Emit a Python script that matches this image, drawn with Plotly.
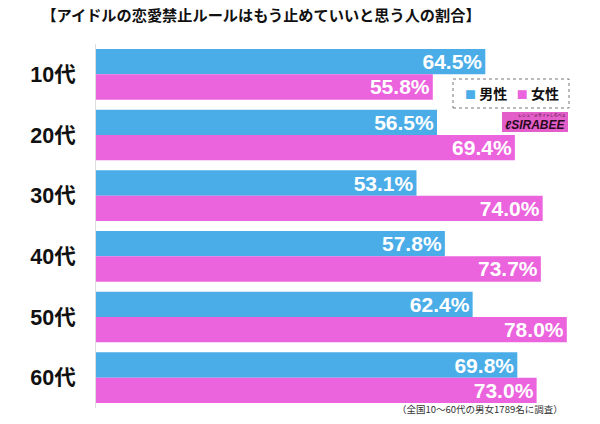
import plotly.graph_objects as go

categories = ["10代", "20代", "30代", "40代", "50代", "60代"]
male = [64.5, 56.5, 53.1, 57.8, 62.4, 69.8]
female = [55.8, 69.4, 74.0, 73.7, 78.0, 73.0]
series_names = ["男性", "女性"]
colors = ["#4BADE8", "#EB63DD"]

title_text = "【アイドルの恋愛禁止ルールはもう止めていいと思う人の割合】"
note_text = "（全国10～60代の男女1789名に調査）"

JP = "Noto Sans CJK JP"
NUM = "Liberation Sans, Noto Sans CJK JP"

fig = go.Figure()
for name, vals, col in zip(series_names, [male, female], colors):
    fig.add_trace(go.Bar(
        y=categories, x=vals, name=name, orientation="h",
        marker=dict(color=col, line=dict(width=0)),
        text=[f"{v:.1f}%" for v in vals],
        textposition="inside", insidetextanchor="end",
        constraintext="none",
        textfont=dict(color="white", size=21, family=NUM, weight="bold"),
        showlegend=False,
    ))

fig.update_layout(
    width=600, height=424,
    margin=dict(l=96, r=0, t=44, b=16),
    paper_bgcolor="white", plot_bgcolor="white",
    barmode="group", bargap=0.165, bargroupgap=0,
    xaxis=dict(range=[0, 83.5], visible=False, showgrid=False, zeroline=False),
    yaxis=dict(autorange="reversed", showgrid=False, zeroline=False,
               showline=True, linecolor="#DDDDDD", linewidth=1,
               ticks="", ticklabelstandoff=15,
               tickfont=dict(family=NUM, size=21.5, color="#111111", weight="bold")),
    title=dict(text=title_text, xref="container", yref="container",
               x=261/600, y=1-16/424, xanchor="center", yanchor="middle",
               font=dict(family=JP, size=15.2, color="#111111", weight="bold")),
)

def px_x(p):
    return (p - 96) / 504
def px_y(p):
    return 1 - (p - 44) / 364

# legend box (dashed)
fig.add_shape(type="rect", xref="paper", yref="paper",
              x0=px_x(453), x1=px_x(569), y0=px_y(108), y1=px_y(79),
              line=dict(color="#777777", width=1, dash="dot"), fillcolor="white")
legend_html = (f"<span style='color:{colors[0]};font-size:11px'>■</span> {series_names[0]}"
               f"   <span style='color:{colors[1]};font-size:11px'>■</span> {series_names[1]}")
fig.add_annotation(xref="paper", yref="paper", x=px_x(512), y=px_y(93.5),
                   text=legend_html, showarrow=False, xanchor="center", yanchor="middle",
                   font=dict(family=JP, size=14, color="#111111", weight="bold"))

# SIRABEE logo
fig.add_shape(type="rect", xref="paper", yref="paper",
              x0=px_x(502), x1=px_x(568), y0=px_y(132), y1=px_y(112),
              line=dict(width=0), fillcolor="#E35EC8")
fig.add_annotation(xref="paper", yref="paper", x=px_x(535), y=px_y(125),
                   text="<i><b>ℓSIRABEE</b></i>", showarrow=False,
                   xanchor="center", yanchor="middle",
                   font=dict(family="Liberation Sans", size=12, color="#2A0A20"))
fig.add_annotation(xref="paper", yref="paper", x=px_x(542), y=px_y(115.5),
                   text="レシューメサイトしらべぇ", showarrow=False,
                   xanchor="center", yanchor="middle",
                   font=dict(family=JP, size=4, color="#2A0A20"))

# footnote
fig.add_annotation(xref="paper", yref="paper", x=px_x(565), y=px_y(409),
                   text=note_text, showarrow=False, xanchor="right", yanchor="middle",
                   font=dict(family=JP, size=9.5, color="#333333"))

fig.write_html("out.html", config={"displayModeBar": False},
               post_script="document.body.style.margin='0';document.body.style.padding='0';")
